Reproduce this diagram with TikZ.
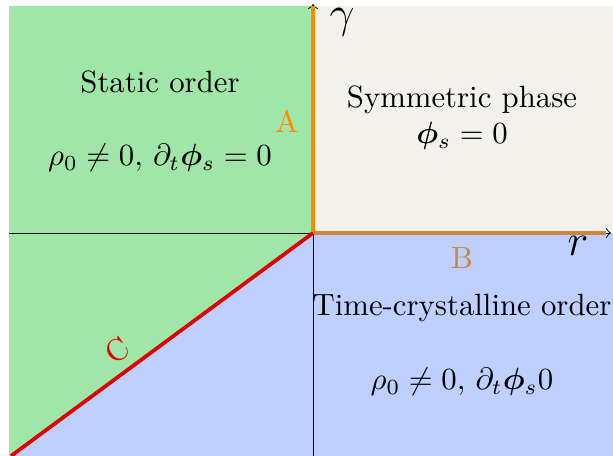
\documentclass[tikz,border=0pt]{standalone}
\usepackage{amsmath,bm}
\definecolor{greenreg}{RGB}{160,230,168}
\definecolor{beigereg}{RGB}{242,242,234}
\definecolor{bluereg}{RGB}{190,208,255}
\definecolor{lineA}{RGB}{255,140,0}
\definecolor{lineB}{RGB}{205,133,63}
\definecolor{lineC}{RGB}{225,0,0}
\tikzset{
  axisline/.style={line width=0.3pt,draw=black},
  bound/.style={line width=1pt},
  lbl/.style={inner sep=0pt,align=center},
}
\begin{document}
\begin{tikzpicture}[x=0.325pt,y=-0.325pt]
\useasboundingbox (0,0) rectangle (613,456);
\coordinate (O) at (313,233);
\coordinate (Top) at (313,4);
\coordinate (Bot) at (313,456);
\coordinate (Left) at (9,233);
\coordinate (Right) at (611,233);
\coordinate (Atop) at (313,6);
\coordinate (Bend) at (606,233);
\coordinate (Cend) at (11,456);
% regions
\fill[greenreg] (9,6) -- (313,6) -- (313,233) -- (Cend) -- (9,456) -- cycle;
\fill[beigereg] (313,6) -- (613,6) -- (613,233) -- (313,233) -- cycle;
\fill[bluereg] (313,233) -- (613,233) -- (613,456) -- (Cend) -- cycle;
% axes
\draw[axisline,->] (Left) -- (Right);
\draw[axisline,->] (Bot) -- (Top);
% boundaries
\draw[bound,lineA] (O) -- (Atop);
\draw[bound,lineB] (O) -- (Bend);
\draw[line width=1.2pt,lineC] (O) -- (Cend);
% axis labels
\node[lbl,font=\Large] (gam) at (342,22) {$\gamma$};
\node[lbl,font=\Large] (rr) at (578,246) {$r$};
% boundary labels
\node[lbl,text=lineA] (la) at (287,121) {A};
\node[lbl,text=lineB] (lb) at (462,258) {B};
\node[lbl,text=lineC,rotate=36] (lc) at (117,350) {C};
% region texts
\node[lbl] (s1) at (160,82) {Static order};
\node[lbl] (s2) at (160,158) {$\rho_0\neq 0,\,\partial_t\bm{\phi}_s=0$};
\node[lbl] (p1) at (462,100) {Symmetric phase};
\node[lbl] (p2) at (462,136) {$\bm{\phi}_s=0$};
\node[lbl] (t1) at (462,308) {Time-crystalline order};
\node[lbl] (t2) at (462,382) {$\rho_0\neq 0,\,\partial_t\bm{\phi}_s0$};
\end{tikzpicture}
\end{document}
